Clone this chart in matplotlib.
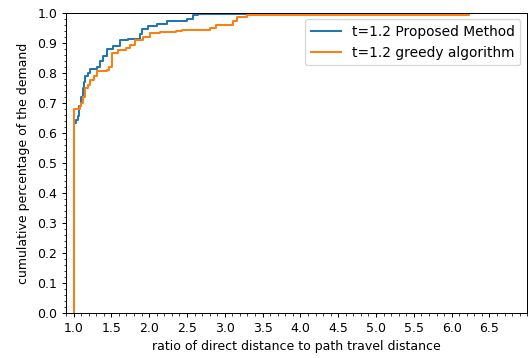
import numpy as np
import matplotlib
matplotlib.use("Agg")
import matplotlib.pyplot as plt
from matplotlib.ticker import MultipleLocator

# step curves (x = ratio, y = cumulative share)
proposed_x = [1.0, 1.0, 1.01, 1.036, 1.06, 1.075, 1.098, 1.12, 1.14, 1.154, 1.19, 1.22,
              1.31, 1.35, 1.39, 1.44, 1.52, 1.61, 1.72, 1.88, 1.90, 1.985, 2.10, 2.23,
              2.50, 2.58, 2.645, 4.72]
proposed_y = [0.0, 0.626, 0.632, 0.642, 0.655, 0.69, 0.72, 0.75, 0.77, 0.79, 0.80, 0.812,
              0.82, 0.838, 0.855, 0.877, 0.888, 0.908, 0.913, 0.927, 0.946, 0.954, 0.962,
              0.973, 0.98, 0.991, 0.996, 1.0]

greedy_x = [1.0, 1.0, 1.08, 1.098, 1.12, 1.154, 1.19, 1.22, 1.27, 1.31, 1.44, 1.475, 1.51,
            1.59, 1.70, 1.75, 1.81, 1.92, 2.01, 2.14, 2.36, 2.43, 2.80, 2.89, 3.11, 3.16,
            3.29, 6.23]
greedy_y = [0.0, 0.678, 0.69, 0.70, 0.72, 0.75, 0.76, 0.777, 0.79, 0.805, 0.81, 0.82, 0.867,
            0.875, 0.883, 0.893, 0.91, 0.92, 0.932, 0.935, 0.938, 0.943, 0.948, 0.96,
            0.971, 0.985, 0.993, 1.0]

labels = ["t=1.2 Proposed Method", "t=1.2 greedy algorithm"]

dpi = 90
fig = plt.figure(figsize=(531 / dpi, 358 / dpi), dpi=dpi)
ax = fig.add_axes([66 / 531, 1 - 313.3 / 358, (527.3 - 66) / 531, (313.3 - 12.5) / 358])

ax.step(proposed_x, proposed_y, where="post", color="#1f77b4", lw=1.6, label=labels[0])
ax.step(greedy_x, greedy_y, where="post", color="#ff7f0e", lw=1.6, label=labels[1])

ax.set_xlim(0.9, 7.0)
ax.set_ylim(0, 1.0)
ax.set_xticks(np.arange(1.0, 7.0, 0.5))
ax.set_yticks(np.arange(0, 1.01, 0.1))
ax.xaxis.set_minor_locator(MultipleLocator(0.1))
ax.yaxis.set_minor_locator(MultipleLocator(0.02))

ax.set_xlabel("ratio of direct distance to path travel distance")
ax.set_ylabel("cumulative percentage of the demand", labelpad=6)
ax.legend(loc="upper right", fontsize=11, handlelength=2.2)

fig.savefig("out.png", dpi=dpi)
